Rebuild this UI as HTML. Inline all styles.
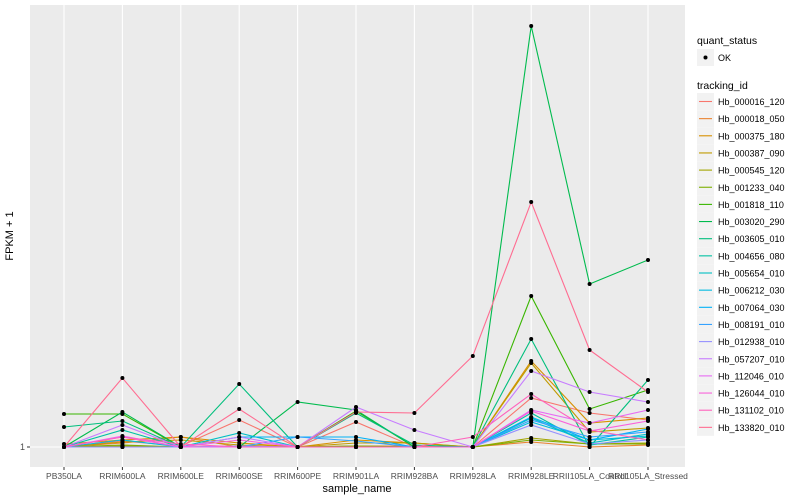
<!DOCTYPE html>
<html><head><meta charset="utf-8"><style>
html,body{margin:0;padding:0;background:#fff;}
svg{display:block;font-family:"Liberation Sans",sans-serif;}
</style></head><body>
<svg id="chart" width="800" height="500" xmlns="http://www.w3.org/2000/svg">
<rect x="30" y="5" width="655" height="462" fill="#EBEBEB"/>
<g id="grid"></g><g id="lines"></g><g id="pts"></g><g id="axes"></g><g id="legend"></g>
<text x="13" y="236" font-size="11" text-anchor="middle" transform="rotate(-90 13 236)">FPKM + 1</text>
<text x="357" y="492" font-size="11" text-anchor="middle">sample_name</text>
</svg>
<script>
const categories=["PB350LA","RRIM600LA","RRIM600LE","RRIM600SE","RRIM600PE","RRIM901LA","RRIM928BA","RRIM928LA","RRIM928LE","RRII105LA_Control","RRII105LA_Stressed"];
const seriesNames=["Hb_000016_120","Hb_000018_050","Hb_000375_180","Hb_000387_090","Hb_000545_120","Hb_001233_040","Hb_001818_110","Hb_003020_290","Hb_003605_010","Hb_004656_080","Hb_005654_010","Hb_006212_030","Hb_007064_030","Hb_008191_010","Hb_012938_010","Hb_057207_010","Hb_112046_010","Hb_126044_010","Hb_131102_010","Hb_133820_010"];
const seriesColors=["#F8766D","#EA8331","#D89000","#C09B00","#A3A500","#7CAE00","#39B600","#00BB4E","#00BF7D","#00C1A3","#00BFC4","#00BAE0","#00B0F6","#35A2FF","#9590FF","#C77CFF","#E76BF3","#FA62DB","#FF62BC","#FF6C91"];
const s_000016_120=[1,2.5,1.25,7.75,1,7.25,1,1,13.25,9.5,7.75];
const s_000018_050=[1,2,3.5,1,1,1.25,1.25,1,2.25,1,1.5];
const s_000375_180=[1.75,2.75,3.5,2,1,2.75,2,1,22.5,7,8.25];
const s_000387_090=[1,2.25,2.75,1.5,1,2,2,1,22,4.75,5.75];
const s_000545_120=[1,1.25,1,1.25,1,1.25,1,1,3.25,1.75,2];
const s_001233_040=[1,1.5,1,1,1,1.25,1,1,2.75,1.75,1.75];
const s_001818_110=[9.25,9.25,1,1,1,10,1,1,38.75,10.5,15.25];
const s_003020_290=[1,9.75,1,1,12.25,10.25,1,1,106.25,41.75,47.75];
const s_003605_010=[6,7.5,1,16.75,1,9.5,1.5,1,28,1,17.75];
const s_004656_080=[1,5.25,1,1,1,1,1,1,9.5,1.5,3.5];
const s_005654_010=[1,1,1,4.5,1,1,1,1,8.25,2,4.25];
const s_006212_030=[1,2.75,1,1,1,1,1,1,7.25,2.75,3.75];
const s_007064_030=[1,1,1,3.5,3.5,3.5,1,1,8.5,2.75,5.5];
const s_008191_010=[1,1,1,1,3.5,2.5,1,1,7.75,3.5,4.75];
const s_012938_010=[1,1,1,1.25,1,1,1,1,6.5,1.75,2.75];
const s_057207_010=[1,6.5,1,3.5,1,11,5.25,1,20,14.75,12.25];
const s_112046_010=[1,3.75,1,1,1,1,1,1,10.25,7,10.25];
const s_126044_010=[1,3.5,1,2.75,1,1,1,1,10,5,7.5];
const s_131102_010=[1,3.5,1.75,1,1,1,1,3.5,14.25,5.25,2.75];
const s_133820_010=[1,18.25,1,10.5,1,9.75,9.5,23.75,62.25,25.25,14.75];
const seriesValues=[s_000016_120,s_000018_050,s_000375_180,s_000387_090,s_000545_120,s_001233_040,s_001818_110,s_003020_290,s_003605_010,s_004656_080,s_005654_010,s_006212_030,s_007064_030,s_008191_010,s_012938_010,s_057207_010,s_112046_010,s_126044_010,s_131102_010,s_133820_010];
const yTicks=[1];
const NS="http://www.w3.org/2000/svg";
function xS(i){return 64+i*58.4;}
function yS(v){return 447-(v-1)*4;}
function mk(tag,attrs,parent){const e=document.createElementNS(NS,tag);for(const k in attrs)e.setAttribute(k,attrs[k]);parent.appendChild(e);return e;}
const grid=document.getElementById('grid'),axes=document.getElementById('axes');
yTicks.forEach(t=>{
 const g=mk('line',{x1:30,x2:685,y1:yS(t),y2:yS(t),stroke:'#fff','stroke-width':1.1},grid);
 
 
 const tk=mk('line',{x1:27,x2:30,y1:yS(t),y2:yS(t),stroke:'#333'},axes);
 
 
 const tl=mk('text',{x:25,y:yS(t)+3,'font-size':9,'text-anchor':'end',fill:'#4D4D4D'},axes);
 tl.textContent=t;
 
 
});
categories.forEach((c,i)=>{
 const g=mk('line',{x1:xS(i),x2:xS(i),y1:5,y2:467,stroke:'#fff','stroke-width':1.1},grid);
 
 
 const tk=mk('line',{x1:xS(i),x2:xS(i),y1:467,y2:470,stroke:'#333'},axes);
 
 
 const tl=mk('text',{x:xS(i),y:479,'font-size':8.5,'text-anchor':'middle',fill:'#4D4D4D'},axes);
 tl.textContent=c;
 
 
});
const lines=document.getElementById('lines'),pts=document.getElementById('pts');
seriesValues.forEach((vals,s)=>{
 const p=mk('polyline',{points:vals.map((v,i)=>xS(i)+','+yS(v)).join(' '),fill:'none',stroke:seriesColors[s],'stroke-width':1.1},lines);
 
 
 vals.forEach((v,i)=>{
  const c=mk('circle',{cx:xS(i),cy:yS(v),r:2,fill:'#000'},pts);
  
  
 });
});
const lg=document.getElementById('legend');
let t=mk('text',{x:697,y:44,'font-size':10.5},lg);t.textContent='quant_status';


let kb=mk('rect',{x:697,y:49,width:17,height:17,fill:'#F2F2F2'},lg);


let kd=mk('circle',{cx:705.5,cy:57.5,r:2,fill:'#000'},lg);


t=mk('text',{x:718,y:61,'font-size':9},lg);t.textContent='OK';


t=mk('text',{x:697,y:89,'font-size':10.5},lg);t.textContent='tracking_id';


seriesNames.forEach((n,i)=>{
 const y=93+i*17.15;
 const b=mk('rect',{x:697,y:y,width:17,height:17,fill:'#F2F2F2'},lg);
 
 
 const l=mk('line',{x1:699,x2:712,y1:y+8.5,y2:y+8.5,stroke:seriesColors[i],'stroke-width':1.1},lg);
 
 
 const tx=mk('text',{x:718,y:y+12,'font-size':9},lg);
 tx.textContent=n;
 
 
});
</script>
</body></html>
